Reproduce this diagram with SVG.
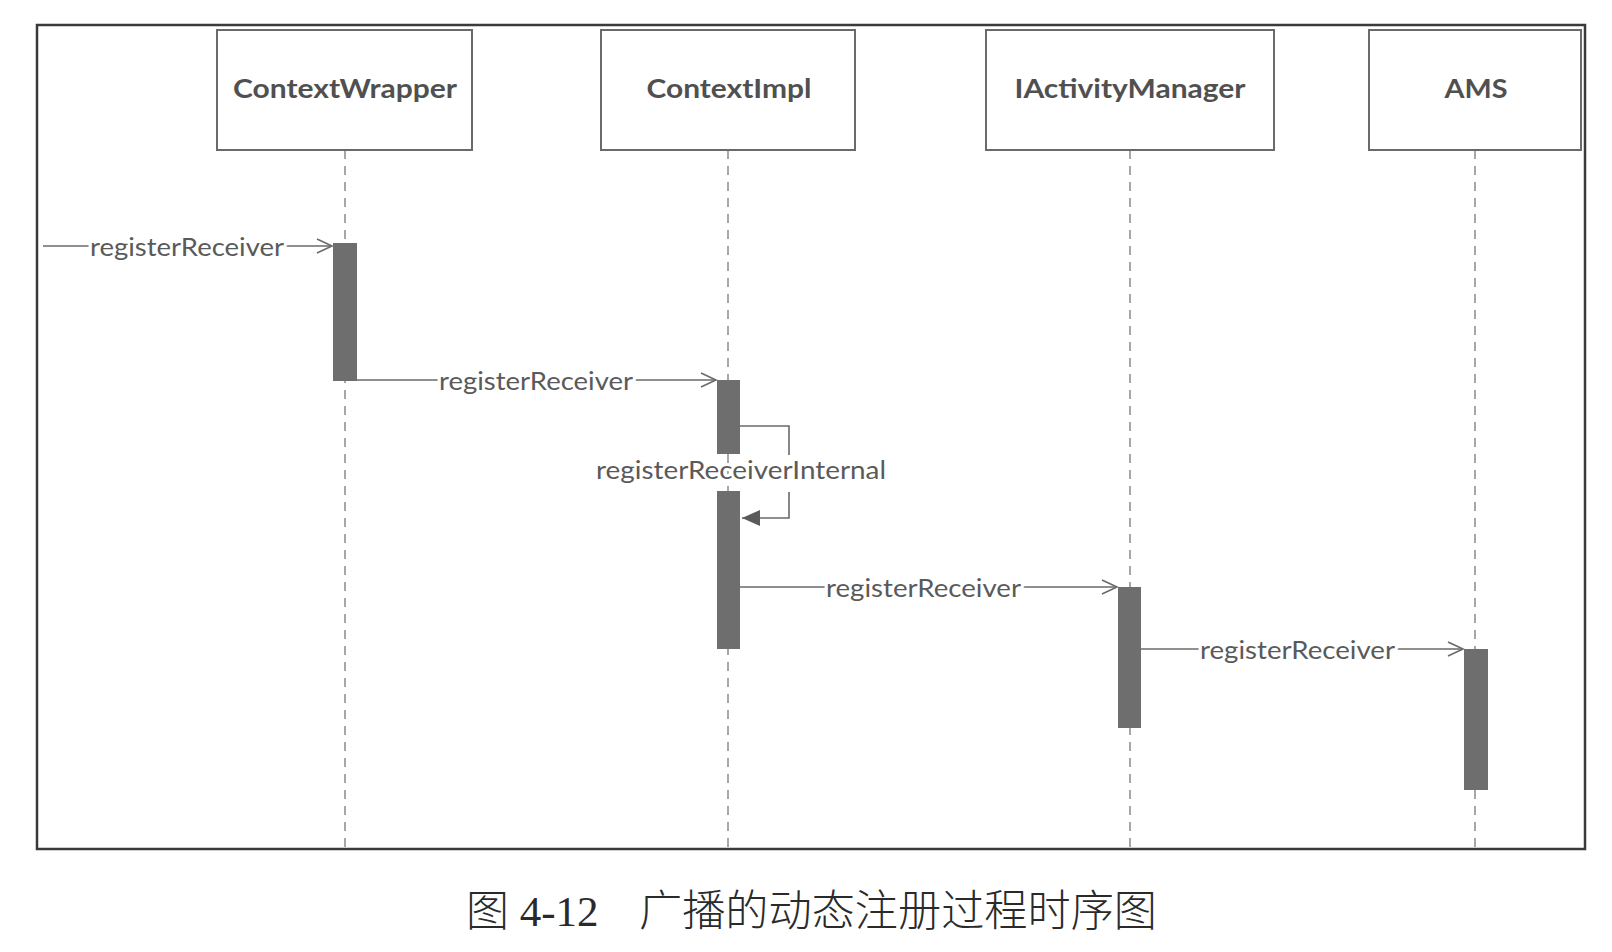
<svg xmlns="http://www.w3.org/2000/svg" width="1612" height="952" viewBox="0 0 1612 952">
<defs>
<style>
.frame{fill:none;stroke:#3a3a3a;stroke-width:2.5}
.box{fill:#fff;stroke:#6a6a6a;stroke-width:2}
.title{font-family:Lato,"Open Sans",sans-serif;font-weight:bold;font-size:26px;fill:#505050;text-anchor:middle}
.life{stroke:#8a8a8a;stroke-width:1.5;stroke-dasharray:9,7;fill:none}
.act{fill:#6e6e6e}
.msg{stroke:#6a6a6a;stroke-width:1.6;fill:none}
.lbl{font-family:Lato,"Open Sans",sans-serif;font-size:25px;fill:#5a5a5a;stroke:#fff;stroke-width:6;paint-order:stroke;stroke-linejoin:round}
.cap{font-size:43px;fill:#2a2a2a}
.cjk{font-family:"Noto Sans CJK SC",sans-serif;font-weight:300}
</style>
<marker id="open" markerWidth="20" markerHeight="20" refX="16" refY="8" orient="auto" markerUnits="userSpaceOnUse">
<path d="M1,1 L16,8 L1,15" fill="none" stroke="#6a6a6a" stroke-width="1.6"/>
</marker>
<marker id="filled" markerWidth="22" markerHeight="20" refX="18" refY="8" orient="auto" markerUnits="userSpaceOnUse">
<path d="M0,0 L18,8 L0,16 Z" fill="#5a5a5a"/>
</marker>
</defs>
<rect width="1612" height="952" fill="#fff"/>
<rect class="frame" x="37" y="25" width="1548" height="824"/>

<g id="lifelines">
<line class="life" x1="345" y1="150" x2="345" y2="849"/>
<line class="life" x1="728" y1="150" x2="728" y2="849"/>
<line class="life" x1="1130" y1="150" x2="1130" y2="849"/>
<line class="life" x1="1475" y1="150" x2="1475" y2="849"/>
</g>

<g id="node-contextwrapper">
<rect class="box" x="217" y="30" width="255" height="120"/>
<text class="title" x="345" y="98" textLength="224" lengthAdjust="spacingAndGlyphs">ContextWrapper</text>
</g>
<g id="node-contextimpl">
<rect class="box" x="601" y="30" width="254" height="120"/>
<text class="title" x="729" y="98" textLength="165" lengthAdjust="spacingAndGlyphs">ContextImpl</text>
</g>
<g id="node-iactivitymanager">
<rect class="box" x="986" y="30" width="288" height="120"/>
<text class="title" x="1130" y="98" textLength="231" lengthAdjust="spacingAndGlyphs">IActivityManager</text>
</g>
<g id="node-ams">
<rect class="box" x="1369" y="30" width="212" height="120"/>
<text class="title" x="1476" y="98" textLength="63" lengthAdjust="spacingAndGlyphs">AMS</text>
</g>

<g id="activations">
<rect class="act" x="333" y="243" width="24" height="138"/>
<rect class="act" x="717" y="380" width="23" height="74"/>
<rect class="act" x="717" y="491" width="23" height="158"/>
<rect class="act" x="1118" y="587" width="23" height="141"/>
<rect class="act" x="1464" y="649" width="24" height="141"/>
</g>

<g id="connectors">
<line class="msg" x1="43" y1="246" x2="332" y2="246" marker-end="url(#open)"/>
<line class="msg" x1="357" y1="380" x2="716" y2="380" marker-end="url(#open)"/>
<path class="msg" d="M740,426 H789 V455 M789,492 V518 H742" marker-end="url(#filled)"/>
<line class="msg" x1="740" y1="587" x2="1117" y2="587" marker-end="url(#open)"/>
<line class="msg" x1="1141" y1="649" x2="1463" y2="649" marker-end="url(#open)"/>
<text class="lbl" x="90" y="256" textLength="194" lengthAdjust="spacingAndGlyphs">registerReceiver</text>
<text class="lbl" x="439" y="390" textLength="194" lengthAdjust="spacingAndGlyphs">registerReceiver</text>
<text class="lbl" x="596" y="479" textLength="290" lengthAdjust="spacingAndGlyphs">registerReceiverInternal</text>
<text class="lbl" x="826" y="597" textLength="195" lengthAdjust="spacingAndGlyphs">registerReceiver</text>
<text class="lbl" x="1200" y="659" textLength="195" lengthAdjust="spacingAndGlyphs">registerReceiver</text>
</g>

<g id="caption">
<text class="cap" x="466" y="926"><tspan class="cjk">图</tspan><tspan font-family="'Liberation Serif',serif"> 4-12</tspan></text>
<text class="cap cjk" x="639" y="926" textLength="518" lengthAdjust="spacingAndGlyphs">广播的动态注册过程时序图</text>
</g>
</svg>
